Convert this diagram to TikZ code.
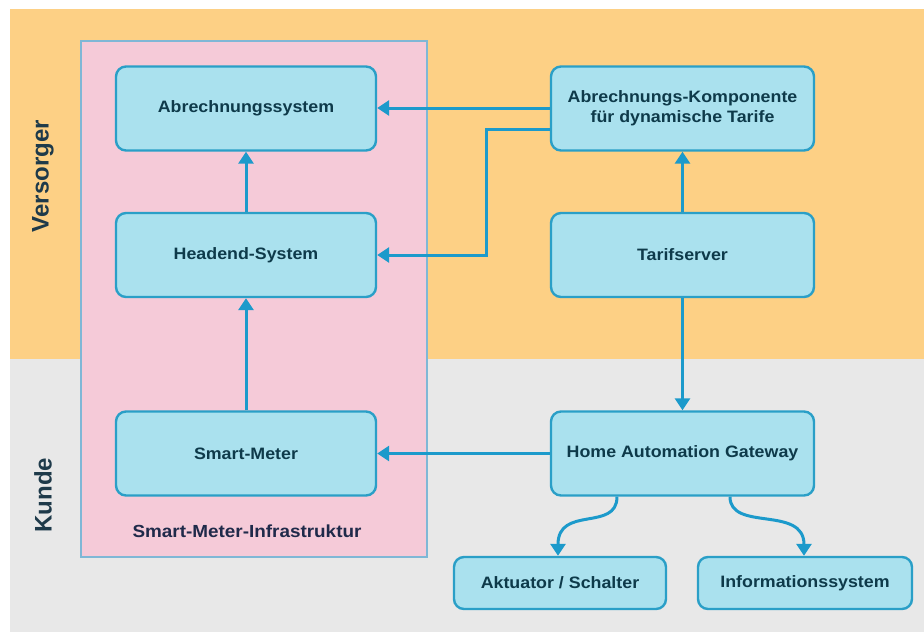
\documentclass[tikz,border=0pt]{standalone}
\usepackage{fontspec}
\setmainfont{Liberation Sans}
\newfontfamily\boxfont[FakeStretch=1.08]{Liberation Sans}
\usetikzlibrary{arrows.meta}
\definecolor{orangebg}{HTML}{FDD085}
\definecolor{graybg}{HTML}{E8E8E8}
\definecolor{pinkbg}{HTML}{F5CAD8}
\definecolor{pinkline}{HTML}{7FB7D6}
\definecolor{boxfill}{HTML}{AAE1EE}
\definecolor{boxline}{HTML}{2A9FC7}
\definecolor{arrowcol}{HTML}{1C9ACB}
\definecolor{boxtext}{HTML}{0E3A4A}
\definecolor{sidetext}{HTML}{1E3A4A}
\definecolor{infratext}{HTML}{1F2A4A}
\tikzset{
  compbox/.style={draw=boxline, fill=boxfill, line width=2.4pt, rounded corners=10pt,
    minimum width=260pt, minimum height=84pt, align=center, text=boxtext,
    font=\boxfont\bfseries\fontsize{16.5}{20}\selectfont, inner sep=0pt},
  smallbox/.style={compbox, minimum height=52pt},
  conn/.style={draw=arrowcol, line width=3pt, -{Triangle[length=12pt,width=15pt]}},
  sidelabel/.style={rotate=90, text=sidetext, font=\bfseries\fontsize{24}{28}\selectfont},
}
\begin{document}
\begin{tikzpicture}[x=1pt,y=-1pt]
\useasboundingbox (0,0) rectangle (924,632);
\fill[white] (0,0) rectangle (924,632);
\fill[orangebg] (10,9) rectangle (924,359);
\fill[graybg] (10,359) rectangle (924,632);
\draw[fill=pinkbg, draw=pinkline, line width=1.2pt] (81,41) rectangle (427,557);
\node[sidelabel] (versorger) at (43,176) {Versorger};
\node[sidelabel] (kunde) at (43,495) {Kunde};
\node[text=infratext, font=\boxfont\bfseries\fontsize{17.5}{20}\selectfont] (infra) at (247,531) {Smart-Meter-Infrastruktur};

\node[compbox] (abr) at (246,108.5) {Abrechnungssystem};
\node[compbox] (head) at (246,255) {Headend-System};
\node[compbox] (smart) at (246,453.5) {Smart-Meter};
\node[compbox, minimum width=263pt] (komp) at (682.5,108.5) {Abrechnungs-Komponente\\für dynamische Tarife};
\node[compbox, minimum width=263pt] (tarif) at (682.5,255) {Tarifserver};
\node[compbox, minimum width=263pt] (hag) at (682.5,453.5) {Home Automation Gateway};
\node[smallbox, minimum width=212pt] (akt) at (560,583) {Aktuator / Schalter};
\node[smallbox, minimum width=214pt] (info) at (805,583) {Informationssystem};

\draw[conn] (komp.west |- 0,108) -- (abr.east |- 0,108);
\draw[conn] (komp.west |- 0,129) -| (486,160) |- (head.east);
\draw[conn] (head.north) -- (abr.south);
\draw[conn] (smart.north) -- (head.south);
\draw[conn] (tarif.north) -- (komp.south);
\draw[conn] (tarif.south) -- (hag.north);
\draw[conn] (hag.west) -- (smart.east);
\draw[conn] (hag.south -| 617,0) .. controls (617,532) and (558,505) .. (akt.north -| 558,0);
\draw[conn] (hag.south -| 730,0) .. controls (730,532) and (804,505) .. (info.north -| 804,0);
\end{tikzpicture}
\end{document}
